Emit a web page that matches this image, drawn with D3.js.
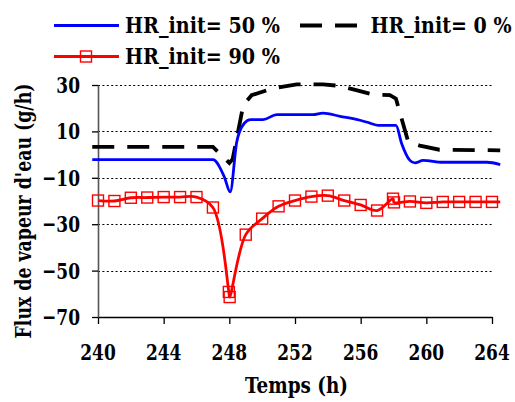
<!DOCTYPE html>
<html>
<head>
<meta charset="utf-8">
<script src="https://cdn.jsdelivr.net/npm/d3@7"></script>
<style>
  html, body { margin: 0; padding: 0; background: #fff; }
  svg { display: block; }
</style>
</head>
<body>
<svg id="chart" width="515" height="402"></svg>
<script>
// ---- Data ----
const seriesNames = ["HR_init= 50 %", "HR_init= 0 %", "HR_init= 90 %"];
const seriesColors = ["#0000FF", "#000000", "#FF0000"];

const hr50Time = [239.65, 247.0, 247.7, 248.05, 248.45, 248.9, 249.3, 250.05, 250.9, 253.1, 253.7, 254.74, 255.96, 256.56, 257.07, 258.15, 258.5, 259.0, 259.3, 259.8, 261.0, 263.7, 264.5];
const hr50Flux = [-2.2, -2.2, -9.7, -16.1, 5.4, 13.4, 15.1, 15.1, 17.2, 17.2, 17.9, 16.5, 14.8, 13.6, 12.6, 12.6, 4.7, -2.5, -3.6, -2.5, -3.3, -3.3, -4.3];

const hr0Time = [239.65, 247.0, 248.0, 248.2, 248.85, 249.36, 250.58, 252.1, 253.7, 254.74, 255.55, 256.77, 257.78, 258.15, 258.9, 259.6, 260.8, 264.5];
const hr0Flux = [3.3, 3.3, -3.6, -2.0, 21.3, 25.6, 28.4, 30.3, 30.3, 29.6, 28.1, 25.9, 25.6, 24.1, 5.4, 3.9, 2.1, 1.85];

const hr90Time = [240, 241, 242, 243, 244, 245, 246, 247, 247.97, 248.02, 249, 250, 251, 252, 253, 254, 255, 256, 257, 257.97, 258.03, 259, 260, 261, 262, 263, 264];
const hr90Flux = [-19.8, -20.0, -18.6, -18.5, -18.3, -18.3, -18.3, -22.8, -59.2, -61.4, -34.5, -27.6, -22.3, -19.8, -18.1, -17.7, -19.8, -21.7, -24.1, -19.0, -20.6, -20.2, -20.8, -20.4, -20.4, -20.4, -20.4];
const hr90EndTime = 264.5, hr90EndFlux = -20.4;

const xTicks = [240, 244, 248, 252, 256, 260, 264];
const yTicks = [30, 10, -10, -30, -50, -70];
const xTitle = "Temps (h)";
const yTitle = "Flux de vapeur d'eau (g/h)";

// ---- Chart ----
const FONT = "'DejaVu Serif', 'Liberation Serif', serif";
const svg = d3.select("#chart");
const x = d3.scaleLinear().domain([240, 264]).range([98, 492]);
const y = d3.scaleLinear().domain([-70, 30]).range([317, 85]);
const FS = 23;
const SX = 0.74; // horizontal condensation for tick labels

// gridlines
svg.append("g").selectAll("line")
  .data(yTicks.filter(d => d !== -70))
  .join("line")
  .attr("x1", x(240)).attr("x2", x(264))
  .attr("y1", d => Math.round(y(d)) + 0.5).attr("y2", d => Math.round(y(d)) + 0.5)
  .attr("stroke", "#000").attr("stroke-width", 1)
  .attr("stroke-dasharray", "2,2.4");

// helper to draw condensed bold text; if width given, fit to that width
function ctext(parent, str, tx, ty, anchor, rotate, width) {
  const g = parent.append("g").attr("transform", `translate(${tx},${ty})` + (rotate ? ` rotate(${rotate})` : ""));
  const t = g.append("text")
    .attr("text-anchor", anchor).attr("font-family", FONT).attr("font-weight", "bold")
    .attr("font-size", FS).attr("fill", "#000").text(str);
  let s = SX;
  if (width) { const w = t.node().getComputedTextLength(); if (w > 0) s = width / w; }
  t.attr("transform", `scale(${s},1)`);
  return g;
}

// axes
const gx = svg.append("g").attr("transform", `translate(0,${y(-70)})`)
  .call(d3.axisBottom(x).tickValues(xTicks).tickSize(7).tickSizeOuter(0).tickFormat(""));
gx.select(".domain").attr("stroke", "#000").attr("stroke-width", 1.3);
gx.selectAll(".tick line").attr("stroke", "#000").attr("stroke-width", 1.3);
xTicks.forEach(t => ctext(svg, d3.format("d")(t), x(t), 360, "middle"));

const gy = svg.append("g").attr("transform", `translate(${x(240)},0)`)
  .call(d3.axisLeft(y).tickValues(yTicks).tickSize(6).tickSizeOuter(0).tickFormat(""));
gy.select(".domain").attr("stroke", "#555").attr("stroke-width", 1.6);
gy.selectAll(".tick line").attr("stroke", "#000").attr("stroke-width", 1.3);
yTicks.forEach(t => ctext(svg, d3.format("d")(t), 80, y(t) + 8, "end"));

// titles
ctext(svg, xTitle, 296.5, 393, "middle", 0, 103);
ctext(svg, yTitle, 31, 211, "middle", -90, 255);

// lines
const line = d3.line().x(d => x(d[0])).y(d => y(d[1]));
const hr50 = hr50Time.map((t, i) => [t, hr50Flux[i]]);
const hr0 = hr0Time.map((t, i) => [t, hr0Flux[i]]);
const hr90 = hr90Time.map((t, i) => [t, hr90Flux[i]]);
const hr90Line = hr90.concat([[hr90EndTime, hr90EndFlux]]);

svg.append("path").datum(hr0)
  .attr("d", line.curve(d3.curveLinear))
  .attr("fill", "none").attr("stroke", seriesColors[1]).attr("stroke-width", 3.8)
  .attr("stroke-dasharray", "22,13");

svg.append("path").datum(hr50)
  .attr("d", line.curve(d3.curveMonotoneX))
  .attr("fill", "none").attr("stroke", seriesColors[0]).attr("stroke-width", 2.8)
  .attr("stroke-linejoin", "round");

svg.append("path").datum(hr90Line)
  .attr("d", line.curve(d3.curveCatmullRom.alpha(0.5)))
  .attr("fill", "none").attr("stroke", seriesColors[2]).attr("stroke-width", 2.8);

svg.append("g").selectAll("rect").data(hr90).join("rect")
  .attr("x", d => x(d[0]) - 5.5).attr("y", d => y(d[1]) - 5.5)
  .attr("width", 11).attr("height", 11)
  .attr("fill", "none").attr("stroke", seriesColors[2]).attr("stroke-width", 1.4);

// legend
const lg = svg.append("g");
lg.append("line").attr("x1", 54).attr("x2", 119).attr("y1", 25.5).attr("y2", 25.5)
  .attr("stroke", seriesColors[0]).attr("stroke-width", 2.8);
ctext(lg, seriesNames[0], 125, 32.5, "start", 0, 155);
lg.append("line").attr("x1", 300).attr("x2", 357).attr("y1", 25.5).attr("y2", 25.5)
  .attr("stroke", seriesColors[1]).attr("stroke-width", 3.8).attr("stroke-dasharray", "22,13");
ctext(lg, seriesNames[1], 370.5, 32.5, "start", 0, 141);
lg.append("line").attr("x1", 54).attr("x2", 119).attr("y1", 56.5).attr("y2", 56.5)
  .attr("stroke", seriesColors[2]).attr("stroke-width", 2.8);
lg.append("rect").attr("x", 80.5).attr("y", 51).attr("width", 11).attr("height", 11)
  .attr("fill", "none").attr("stroke", seriesColors[2]).attr("stroke-width", 1.4);
ctext(lg, seriesNames[2], 125, 63.5, "start", 0, 155);
</script>
</body>
</html>
